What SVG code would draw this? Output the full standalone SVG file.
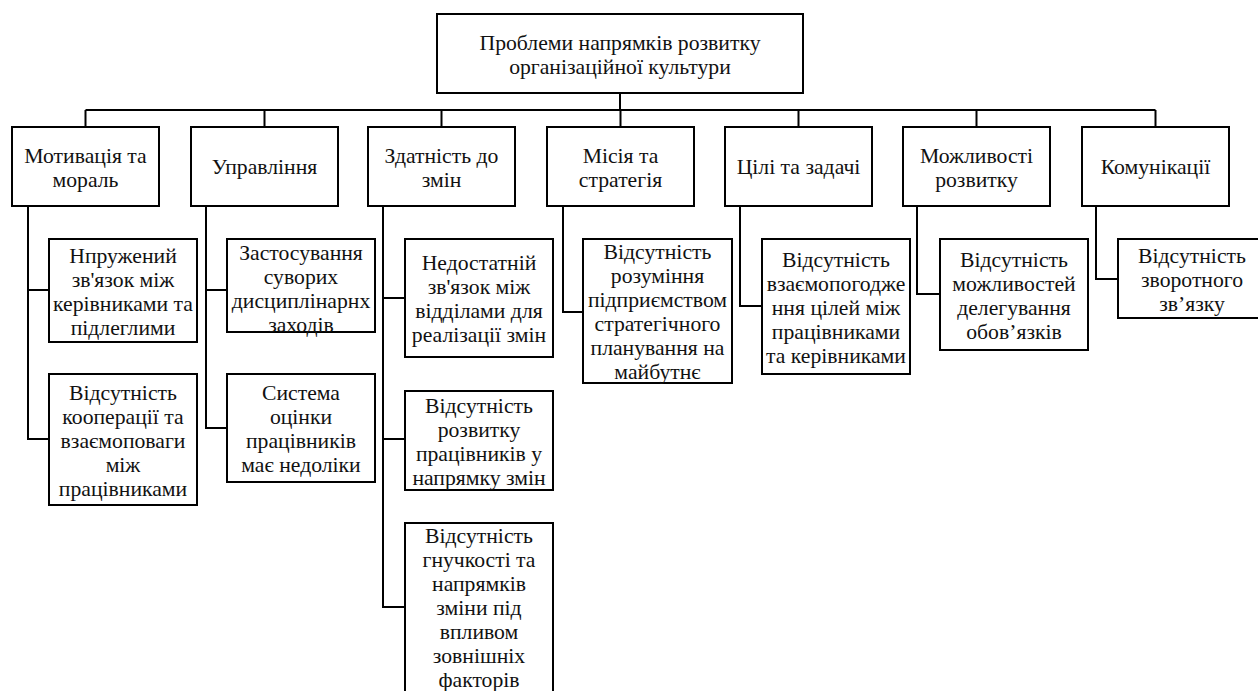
<svg xmlns="http://www.w3.org/2000/svg" width="1258" height="691" viewBox="0 0 1258 691">
<style>
rect{fill:#fff;stroke:#000;stroke-width:2}
text{font-family:'Liberation Serif','Times New Roman',serif;font-size:21.7px;fill:#111;text-anchor:middle}
.c path{fill:none;stroke:#000;stroke-width:2}
</style>
<rect x="0" y="0" width="1258" height="691" style="stroke:none"/>
<g class="c" id="connectors">
<path d="M620,93V110M85.5,110H1155.5M85.5,110V127M264.5,110V127M441.5,110V127M620.5,110V127M798.5,110V127M976.5,110V127M1155.5,110V127"/>
<path d="M28,206V439H49M28,290H49"/>
<path d="M206,206V428H227M206,290H227"/>
<path d="M383,206V607H405M383,298H405M383,439H405"/>
<path d="M563,206V312H583"/>
<path d="M740,206V306H762"/>
<path d="M917,206V294H940"/>
<path d="M1096,206V279H1118"/>
</g>
<g id="root"><rect x="437" y="14" width="366" height="79"/><text x="620" y="49.5">Проблеми напрямків розвитку<tspan x="620" dy="24">організаційної культури</tspan></text></g>
<g id="n1"><rect x="12" y="127" width="147" height="79"/><text x="85.5" y="162.5">Мотивація та<tspan x="85.5" dy="24">мораль</tspan></text></g>
<g id="n2"><rect x="191" y="127" width="147" height="79"/><text x="264.5" y="174">Управління</text></g>
<g id="n3"><rect x="368" y="127" width="147" height="79"/><text x="441.5" y="162.5">Здатність до<tspan x="441.5" dy="24">змін</tspan></text></g>
<g id="n4"><rect x="547" y="127" width="147" height="79"/><text x="620.5" y="162.5">Місія та<tspan x="620.5" dy="24">стратегія</tspan></text></g>
<g id="n5"><rect x="725" y="127" width="147" height="79"/><text x="798.5" y="174">Цілі та задачі</text></g>
<g id="n6"><rect x="903" y="127" width="147" height="79"/><text x="976.5" y="162.5">Можливості<tspan x="976.5" dy="24">розвитку</tspan></text></g>
<g id="n7"><rect x="1082" y="127" width="147" height="79"/><text x="1155.5" y="174">Комунікації</text></g>
<g id="n1a"><rect x="49" y="239" width="148" height="103"/><text x="123" y="262.5">Нпружений<tspan x="123" dy="24">зв'язок між</tspan><tspan x="123" dy="24">керівниками та</tspan><tspan x="123" dy="24">підлеглими</tspan></text></g>
<g id="n1b"><rect x="49" y="374" width="148" height="131"/><text x="123" y="399.5">Відсутність<tspan x="123" dy="24">кооперації та</tspan><tspan x="123" dy="24">взаємоповаги</tspan><tspan x="123" dy="24">між</tspan><tspan x="123" dy="24">працівниками</tspan></text></g>
<g id="n2a"><rect x="227" y="239" width="148" height="93"/><text x="301" y="260">Застосування<tspan x="301" dy="24">суворих</tspan><tspan x="301" dy="24">дисциплінарнх</tspan><tspan x="301" dy="24">заходів</tspan></text></g>
<g id="n2b"><rect x="227" y="374" width="148" height="108"/><text x="301" y="400">Система<tspan x="301" dy="24">оцінки</tspan><tspan x="301" dy="24">працівників</tspan><tspan x="301" dy="24">має недоліки</tspan></text></g>
<g id="n3a"><rect x="405" y="239" width="148" height="118"/><text x="479" y="270">Недостатній<tspan x="479" dy="24">зв'язок між</tspan><tspan x="479" dy="24">відділами для</tspan><tspan x="479" dy="24">реалізації змін</tspan></text></g>
<g id="n3b"><rect x="405" y="391" width="148" height="99"/><text x="479" y="412.5">Відсутність<tspan x="479" dy="24">розвитку</tspan><tspan x="479" dy="24">працівників у</tspan><tspan x="479" dy="24">напрямку змін</tspan></text></g>
<g id="n3c"><rect x="405" y="523" width="148" height="172"/><text x="479" y="543">Відсутність<tspan x="479" dy="24">гнучкості та</tspan><tspan x="479" dy="24">напрямків</tspan><tspan x="479" dy="24">зміни під</tspan><tspan x="479" dy="24">впливом</tspan><tspan x="479" dy="24">зовнішніх</tspan><tspan x="479" dy="24">факторів</tspan></text></g>
<g id="n4a"><rect x="583" y="239" width="149" height="144"/><text x="657.5" y="259">Відсутність<tspan x="657.5" dy="24">розуміння</tspan><tspan x="657.5" dy="24">підприємством</tspan><tspan x="657.5" dy="24">стратегічного</tspan><tspan x="657.5" dy="24">планування на</tspan><tspan x="657.5" dy="24">майбутнє</tspan></text></g>
<g id="n5a"><rect x="762" y="239" width="148" height="135"/><text x="836" y="266.5">Відсутність<tspan x="836" dy="24">взаємопогодже</tspan><tspan x="836" dy="24">ння цілей між</tspan><tspan x="836" dy="24">працівниками</tspan><tspan x="836" dy="24">та керівниками</tspan></text></g>
<g id="n6a"><rect x="940" y="239" width="148" height="111"/><text x="1014" y="266.5">Відсутність<tspan x="1014" dy="24">можливостей</tspan><tspan x="1014" dy="24">делегування</tspan><tspan x="1014" dy="24">обов’язків</tspan></text></g>
<g id="n7a"><rect x="1118" y="239" width="148" height="79"/><text x="1192" y="262.5">Відсутність<tspan x="1192" dy="24">зворотного</tspan><tspan x="1192" dy="24">зв’язку</tspan></text></g>
</svg>
